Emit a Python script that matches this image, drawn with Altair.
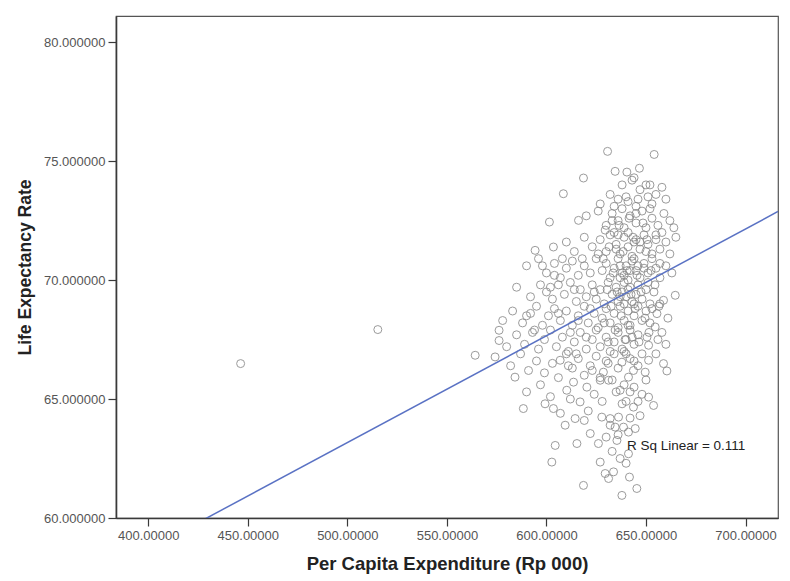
import altair as alt
import pandas as pd

# Per capita expenditure (Rp 000) vs. life expectancy, one circle per region,
# grouped by life-expectancy band.
outliers = [(446.4, 66.49), (515.3, 67.92)]
band_75 = [(630.7, 75.41), (654.1, 75.28)]
band_74 = [(618.6, 74.29), (634.5, 74.57), (640.4, 74.54), (646.7, 74.70),
           (643.0, 74.20), (652.0, 74.00)]
band_73 = [(608.5, 73.63), (632.0, 73.60), (636.0, 73.40), (641.0, 73.30),
           (647.0, 73.80), (651.0, 73.50), (655.0, 73.60), (658.0, 73.90),
           (638.0, 73.00), (645.0, 73.10), (653.0, 73.20), (660.0, 73.40),
           (627.0, 73.20)]
band_72 = [(601.5, 72.44), (616.1, 72.51), (620.0, 72.70), (626.0, 72.90),
           (630.0, 72.30), (633.0, 72.80), (636.0, 72.50), (639.0, 72.20),
           (642.0, 72.70), (645.0, 72.40), (648.0, 72.90), (650.0, 72.20),
           (653.0, 72.60), (656.0, 72.30), (659.0, 72.80), (662.0, 72.50),
           (664.0, 72.20), (634.0, 72.00), (641.0, 72.00), (658.0, 72.00)]
band_71 = [(594.3, 71.25), (603.5, 71.39), (610.0, 71.60), (614.0, 71.20),
           (619.0, 71.80), (623.0, 71.40), (627.0, 71.70), (630.0, 71.20),
           (632.0, 71.90), (635.0, 71.50), (637.0, 71.10), (639.0, 71.80),
           (641.0, 71.40), (643.0, 71.00), (645.0, 71.70), (647.0, 71.30),
           (649.0, 71.90), (651.0, 71.50), (653.0, 71.10), (655.0, 71.70),
           (657.0, 71.30), (660.0, 71.60), (662.0, 71.10), (665.0, 71.80),
           (636.0, 71.90), (644.0, 71.60), (650.0, 71.20)]
band_70 = [(590.0, 70.60), (596.0, 70.90), (600.0, 70.30), (604.0, 70.70),
           (607.0, 70.10), (610.0, 70.50), (613.0, 70.80), (616.0, 70.20),
           (619.0, 70.60), (622.0, 70.30), (625.0, 70.90), (628.0, 70.40),
           (630.0, 70.70), (632.0, 70.10), (634.0, 70.50), (636.0, 70.90),
           (638.0, 70.30), (640.0, 70.60), (641.0, 70.00), (643.0, 70.80),
           (645.0, 70.40), (647.0, 70.10), (649.0, 70.70), (651.0, 70.30),
           (653.0, 70.90), (655.0, 70.50), (657.0, 70.10), (660.0, 70.60),
           (663.0, 70.30), (637.0, 70.60), (639.0, 70.20), (642.0, 70.40),
           (644.0, 70.90), (646.0, 70.60)]
band_69 = [(585.0, 69.70), (592.0, 69.30), (597.0, 69.80), (600.0, 69.50),
           (603.0, 69.20), (606.0, 69.80), (609.0, 69.40), (612.0, 69.90),
           (615.0, 69.10), (617.0, 69.60), (620.0, 69.30), (623.0, 69.80),
           (625.0, 69.20), (627.0, 69.60), (629.0, 69.00), (631.0, 69.90),
           (633.0, 69.40), (635.0, 69.70), (636.0, 69.10), (638.0, 69.50),
           (639.0, 69.90), (640.0, 69.30), (642.0, 69.70), (643.0, 69.10),
           (645.0, 69.40), (646.0, 69.80), (648.0, 69.20), (650.0, 69.60),
           (652.0, 69.00), (654.0, 69.50), (657.0, 69.00), (658.8, 69.15),
           (664.7, 69.36), (637.0, 69.30), (641.0, 69.60), (644.0, 69.00)]
band_68 = [(578.0, 68.30), (583.0, 68.70), (588.0, 68.20), (592.0, 68.60),
           (595.0, 68.90), (598.0, 68.10), (601.0, 68.50), (604.0, 68.80),
           (607.0, 68.30), (610.0, 68.70), (613.0, 68.10), (616.0, 68.50),
           (619.0, 68.90), (621.0, 68.20), (624.0, 68.60), (626.0, 68.00),
           (628.0, 68.40), (630.0, 68.80), (632.0, 68.20), (634.0, 68.60),
           (636.0, 68.00), (637.0, 68.90), (639.0, 68.30), (641.0, 68.70),
           (642.0, 68.10), (644.0, 68.50), (646.0, 68.90), (648.0, 68.30),
           (650.0, 68.70), (655.5, 68.59), (654.6, 68.03), (652.0, 68.20)]
band_67 = [(576.2, 67.89), (576.2, 67.46), (580.0, 67.20), (585.0, 67.70),
           (589.0, 67.30), (593.0, 67.80), (596.0, 67.10), (599.0, 67.50),
           (602.0, 67.90), (605.0, 67.20), (608.0, 67.60), (611.0, 67.00),
           (614.0, 67.40), (617.0, 67.80), (620.0, 67.10), (623.0, 67.50),
           (625.0, 67.90), (627.0, 67.20), (630.0, 67.60), (632.0, 67.00),
           (634.0, 67.40), (636.0, 67.80), (638.0, 67.10), (640.0, 67.50),
           (642.0, 67.90), (644.0, 67.30), (646.0, 67.70), (650.5, 67.60),
           (651.3, 67.26), (639.0, 67.00)]
band_66 = [(564.2, 66.84), (574.2, 66.77), (582.0, 66.40), (587.0, 66.90),
           (591.0, 66.20), (595.0, 66.60), (599.0, 66.10), (603.0, 66.50),
           (606.9, 66.63), (610.0, 66.90), (613.0, 66.30), (616.0, 66.70),
           (619.0, 66.00), (622.0, 66.40), (625.0, 66.80), (628.6, 66.13),
           (631.0, 66.50), (634.0, 66.90), (637.9, 66.55), (642.0, 66.70),
           (643.7, 66.20), (649.6, 66.13), (651.3, 66.63), (658.8, 66.49),
           (660.5, 66.18), (646.0, 66.40)]
band_65 = [(584.2, 65.92), (590.0, 65.30), (597.0, 65.60), (602.0, 65.10),
           (606.0, 65.90), (610.2, 65.37), (613.6, 65.71), (620.3, 65.50),
           (627.0, 65.79), (631.2, 65.79), (635.0, 65.30), (637.0, 65.37),
           (641.2, 65.92), (639.0, 65.60), (648.0, 65.20), (651.3, 65.08),
           (624.0, 65.20), (644.0, 65.50)]
band_64 = [(588.4, 64.60), (599.3, 64.80), (603.5, 64.60), (614.4, 64.18),
           (616.9, 64.88), (627.8, 64.24), (632.0, 64.18), (636.2, 64.24),
           (643.7, 64.66), (653.8, 64.73), (621.0, 64.50), (640.0, 64.90),
           (647.0, 64.30)]
band_63 = [(609.4, 63.90), (604.4, 63.05), (615.3, 63.13), (622.0, 63.55),
           (626.1, 63.13), (634.5, 63.82), (638.7, 63.82), (641.2, 63.61),
           (644.6, 63.76), (635.4, 63.26), (630.0, 63.40)]
band_62 = [(602.7, 62.35), (627.0, 62.35), (641.2, 62.70), (633.0, 62.80),
           (637.0, 62.50)]
band_61 = [(618.6, 61.37), (629.5, 61.87), (631.2, 61.66), (633.7, 61.94),
           (641.7, 61.72), (645.4, 61.24), (637.9, 60.95)]
core = [(629.5, 72.1), (631.5, 71.4), (633.5, 70.3), (635.5, 69.5), (637.5, 68.5),
        (639.5, 67.5), (641.5, 72.6), (643.5, 71.8), (645.5, 70.2), (647.5, 69.5),
        (649.5, 68.4), (651.5, 67.8), (628.5, 70.9), (630.5, 69.6), (632.5, 68.9),
        (634.5, 67.9), (636.5, 72.3), (638.5, 71.2), (640.5, 70.4), (642.5, 69.4),
        (644.5, 68.8), (646.5, 67.4), (648.5, 72.4), (650.5, 71.7), (652.5, 70.4),
        (654.5, 69.8), (656.5, 68.9), (629.0, 68.2), (631.0, 67.4), (633.0, 72.5),
        (635.0, 71.3), (637.0, 70.1), (639.0, 69.0), (641.0, 68.1), (643.0, 67.6),
        (645.0, 72.8), (647.0, 71.6), (649.0, 70.5), (651.0, 69.9), (653.0, 68.8),
        (655.0, 71.9), (657.0, 70.7), (630.0, 66.6), (636.0, 66.3), (640.0, 66.9),
        (644.0, 66.6), (648.0, 66.9), (634.0, 73.1), (640.0, 73.5), (646.0, 73.4),
        (652.0, 73.0), (638.0, 74.0), (644.0, 74.3), (650.0, 74.0), (626.0, 71.1),
        (624.0, 69.5), (622.0, 68.8), (620.0, 67.6), (618.0, 70.9), (616.0, 68.3),
        (614.0, 69.6), (612.0, 67.8), (608.0, 70.9), (606.0, 68.6), (604.0, 70.2),
        (602.0, 69.7), (598.0, 70.6), (594.0, 67.9), (590.0, 68.5), (611.0, 66.4),
        (615.0, 66.9), (623.0, 66.2), (627.0, 65.9), (633.0, 65.8), (638.0, 64.8),
        (642.0, 65.3), (646.0, 64.9), (650.0, 65.8), (655.0, 66.9), (658.0, 67.8),
        (661.0, 68.4), (660.0, 67.3), (656.0, 67.5), (642.0, 64.2), (636.0, 63.5),
        (640.0, 62.3), (632.0, 63.9), (628.0, 64.9), (619.0, 64.1), (612.0, 65.0),
        (607.0, 64.4)]

groups = [outliers, band_75, band_74, band_73, band_72, band_71, band_70,
          band_69, band_68, band_67, band_66, band_65, band_64, band_63,
          band_62, band_61, core]
points = pd.DataFrame([p for g in groups for p in g],
                      columns=["expenditure", "life_expectancy"])

# Linear fit reported for the scatter
fit_intercept = 40.72
fit_slope = 0.0449
r_squared = 0.111

x_domain = [383.8, 716.3]
y_domain = [60.0, 81.1]
x_ticks = [400, 450, 500, 550, 600, 650, 700]
y_ticks = [60, 65, 70, 75, 80]

fit_line = pd.DataFrame({"expenditure": x_domain})
fit_line["life_expectancy"] = fit_intercept + fit_slope * fit_line["expenditure"]

label = pd.DataFrame({"expenditure": [640.4], "life_expectancy": [63.03],
                      "text": [f"R Sq Linear = {r_squared:.3f}"]})

FONT = "Liberation Sans"

x_scale = alt.Scale(domain=x_domain, nice=False, zero=False)
y_scale = alt.Scale(domain=y_domain, nice=False, zero=False)

x_axis = alt.Axis(values=x_ticks, format=".5f", title="Per Capita Expenditure (Rp 000)",
                  grid=False, tickSize=8, labelPadding=3, labelFontSize=13,
                  labelColor="#555555", labelFont=FONT, domainColor="#3a3a3a",
                  domainWidth=1.6, tickColor="#3a3a3a", tickWidth=1.2,
                  titleFont=FONT, titleFontSize=18.5, titleFontWeight="bold",
                  titleColor="#222222", titleY=45, titleBaseline="middle")
y_axis = alt.Axis(values=y_ticks, format=".6f", title="Life Expectancy Rate",
                  grid=False, tickSize=8, labelPadding=3, labelFontSize=13,
                  labelColor="#555555", labelFont=FONT, domainColor="#3a3a3a",
                  domainWidth=1.6, tickColor="#3a3a3a", tickWidth=1.2,
                  titleFont=FONT, titleFontSize=17.5, titleFontWeight="bold",
                  titleColor="#222222", titleX=-91, titleY=251,
                  titleAlign="center", titleBaseline="middle", titleAngle=270)

scatter = alt.Chart(points).mark_point(
    shape="circle", filled=False, size=64, stroke="#8a8a8a", strokeWidth=1,
    opacity=0.85
).encode(
    x=alt.X("expenditure:Q", scale=x_scale, axis=x_axis),
    y=alt.Y("life_expectancy:Q", scale=y_scale, axis=y_axis),
)

line = alt.Chart(fit_line).mark_line(color="#5a72c4", strokeWidth=1.5, clip=True).encode(
    x=alt.X("expenditure:Q", scale=x_scale),
    y=alt.Y("life_expectancy:Q", scale=y_scale),
)

text = alt.Chart(label).mark_text(
    align="left", baseline="middle", font=FONT, fontSize=13.5, color="#222222"
).encode(
    x=alt.X("expenditure:Q", scale=x_scale),
    y=alt.Y("life_expectancy:Q", scale=y_scale),
    text="text:N",
)

chart = alt.layer(scatter, line, text).properties(
    width=662, height=502,
    autosize=alt.AutoSizeParams(type="none"),
    padding={"left": 116, "top": 16, "right": 12, "bottom": 63},
    background="white",
).configure_view(stroke="#555555", strokeWidth=1.2)

chart.save("out.html", embed_options={"renderer": "svg", "actions": False})
